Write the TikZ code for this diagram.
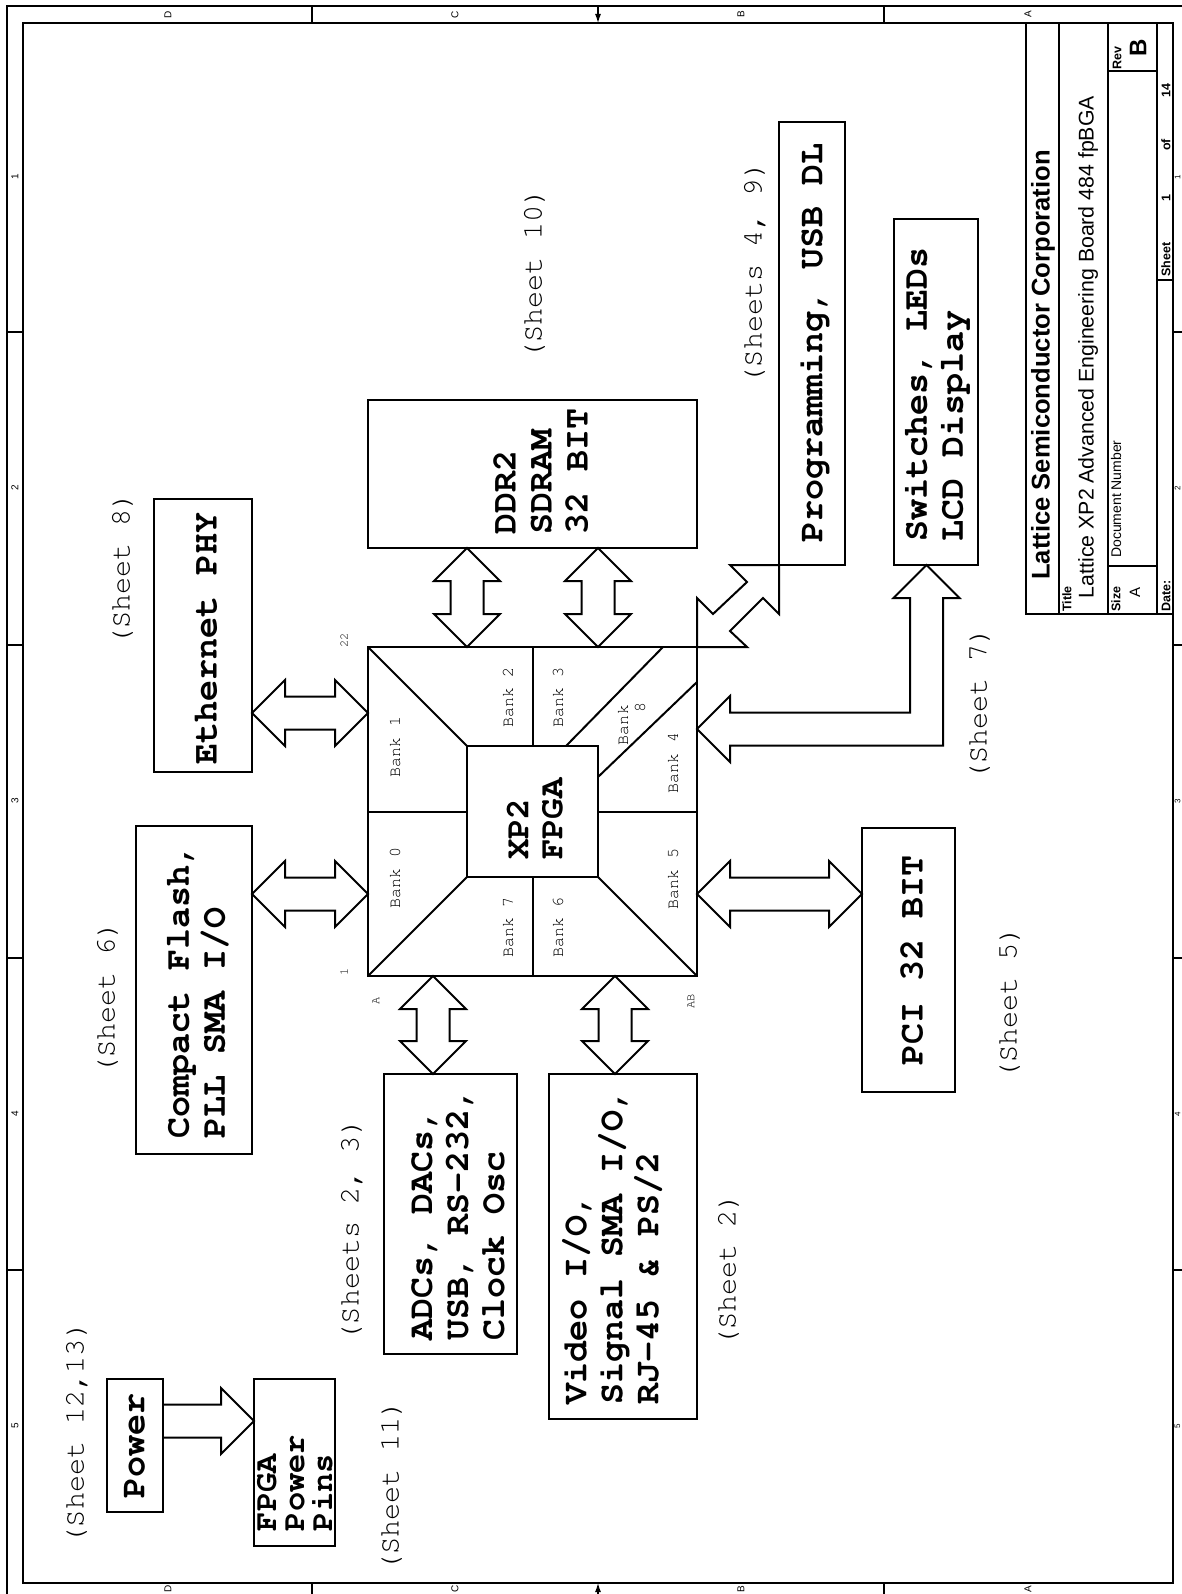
\documentclass[tikz,border=0pt]{standalone}
\usepackage[T1]{fontenc}
\usepackage{fontspec}
\newfontfamily\arialf{Liberation Sans}
\newcommand\courf{\fontencoding{T1}\fontfamily{pcr}\fontseries{m}\fontshape{n}\selectfont}
\newcommand\courbf{\fontencoding{T1}\fontfamily{pcr}\fontseries{b}\fontshape{n}\selectfont}
\usetikzlibrary{calc,arrows.meta}
\tikzset{
  ln/.style={line width=2pt},
  blk/.style={draw, line width=2pt, inner sep=0pt, outer sep=0pt, anchor=north west},
  btxt/.style={rotate=90, align=left, inner sep=0pt, font=\courbf\fontsize{35}{36}\selectfont},
  stxt/.style={rotate=90, inner sep=0pt, font=\courf\fontsize{28.5}{30}\selectfont},
  banktxt/.style={rotate=90, inner sep=0pt, font=\courf\fontsize{16.7}{18}\selectfont},
  pintxt/.style={rotate=90, inner sep=0pt, font=\courf\fontsize{12}{14}\selectfont},
  bandtxt/.style={rotate=90, inner sep=0pt, font=\arialf\fontsize{10}{12}\selectfont},
  arr/.style={draw, line width=2pt, line join=miter},
  tb/.style={line width=2pt},
  tbs/.style={rotate=90, inner sep=0pt, anchor=west, font=\arialf\bfseries\fontsize{12.5}{14}\selectfont},
}
\newcommand\hdbl[2]{\draw[arr] (#1) -- ($(#1)+(33,-33)$) -- ($(#1)+(33,-16.5)$) -- ($(#2)+(-33,-16.5)$) -- ($(#2)+(-33,-33)$) -- (#2) -- ($(#2)+(-33,33)$) -- ($(#2)+(-33,16.5)$) -- ($(#1)+(33,16.5)$) -- ($(#1)+(33,33)$) -- cycle;}
\newcommand\vdbl[2]{\draw[arr] (#1) -- ($(#1)+(-33,33)$) -- ($(#1)+(-16.5,33)$) -- ($(#2)+(-16.5,-33)$) -- ($(#2)+(-33,-33)$) -- (#2) -- ($(#2)+(33,-33)$) -- ($(#2)+(16.5,-33)$) -- ($(#1)+(16.5,33)$) -- ($(#1)+(33,33)$) -- cycle;}
\begin{document}
\begin{tikzpicture}[x=1pt,y=-1pt]
\useasboundingbox (0,0) rectangle (1181,1594);
% ---------- sheet frame ----------
\draw[ln] (7,1600) -- (7,6) -- (1195,6);
\draw[ln] (23,23) rectangle (1173,1583);
\foreach \x in {312,884} {\draw[line width=1.2pt] (\x,6) -- (\x,23); \draw[line width=1.2pt] (\x,1583) -- (\x,1600);}
\foreach \y in {332,645,958,1270} {\draw[line width=1.2pt] (7,\y) -- (23,\y); \draw[line width=1.2pt] (1173,\y) -- (1195,\y);}
\draw[line width=1.2pt,-{Latex[length=9pt,width=6pt]}] (598,6) -- (598,23);
\draw[line width=1.2pt,-{Latex[length=9pt,width=6pt]}] (598,1600) -- (598,1583);
\foreach \x/\l in {168/D,455/C,741/B,1028/A} {\node[bandtxt] at (\x,14.5) {\l}; \node[bandtxt] at (\x,1589) {\l};}
\foreach \y/\n in {177/1,488/2,801/3,1114/4,1426/5} {\node[bandtxt] at (15,\y) {\n}; \node[bandtxt, font=\arialf\fontsize{8}{9}\selectfont] at (1177.5,\y) {\n};}
% ---------- title block ----------
\draw[tb] (1026,23) rectangle (1173,614);
\draw[tb] (1059,23) -- (1059,614);
\draw[tb] (1108,23) -- (1108,614);
\draw[tb] (1157,23) -- (1157,614);
\draw[tb] (1108,566) -- (1157,566);
\draw[tb] (1108,71) -- (1157,71);
\draw[tb] (1157,280) -- (1173,280);
\node[rotate=90, inner sep=0pt, font=\arialf\bfseries\fontsize{25.6}{28}\selectfont] (corp) at (1043,365) {Lattice Semiconductor Corporation};
\node[rotate=90, inner sep=0pt, font=\arialf\fontsize{21.3}{24}\selectfont] (ttl) at (1088,347) {Lattice XP2 Advanced Engineering Board 484 fpBGA};
\node[tbs] (tlab) at (1067,612) {Title};
\node[tbs] (slab) at (1116,612) {Size};
\node[rotate=90, inner sep=0pt, font=\arialf\fontsize{15}{16}\selectfont] (sval) at (1135,592) {A};
\node[tbs, font=\arialf\fontsize{14}{16}\selectfont] (dlab) at (1116,558) {Document Number};
\node[tbs] (rlab) at (1117,70) {Rev};
\node[rotate=90, inner sep=0pt, font=\arialf\bfseries\fontsize{24}{26}\selectfont] (rval) at (1138,48) {B};
\node[tbs] (datel) at (1166,612) {Date:};
\node[tbs] (shl) at (1166,277) {Sheet};
\node[tbs, anchor=center] (shn) at (1166,198) {1};
\node[tbs, anchor=center] (ofl) at (1166,145) {of};
\node[tbs, anchor=center] (tot) at (1166,91) {14};
% ---------- blocks ----------
\node[blk, minimum width=329pt, minimum height=148pt] (ddr) at (368,400) {};
\node[blk, minimum width=66pt, minimum height=443pt] (prog) at (779,122) {};
\node[blk, minimum width=84pt, minimum height=346pt] (sw) at (894,219) {};
\node[blk, minimum width=98pt, minimum height=273pt] (eth) at (154,499) {};
\node[blk, minimum width=116pt, minimum height=328pt] (cf) at (136,826) {};
\node[blk, minimum width=133pt, minimum height=280pt] (adc) at (384,1074) {};
\node[blk, minimum width=148pt, minimum height=345pt] (vid) at (549,1074) {};
\node[blk, minimum width=93pt, minimum height=264pt] (pci) at (862,828) {};
\node[blk, minimum width=56pt, minimum height=133pt] (pwr) at (107,1379) {};
\node[blk, minimum width=81pt, minimum height=167pt] (pins) at (254,1379) {};
\node[blk, minimum width=329pt, minimum height=329pt] (fpga) at (368,647) {};
\node[blk, minimum width=131pt, minimum height=131pt] (xp) at (467,746) {};
% block texts
\node[btxt] (ddrt) at (541,471) {DDR2\\SDRAM\\32 BIT};
\node[btxt] (progt) at (813,343) {Programming, USB DL};
\node[btxt] (swt) at (935.5,394) {Switches, LEDs\\LCD Display};
\node[btxt] (etht) at (206,638) {Ethernet PHY};
\node[btxt] (cft) at (197,991) {Compact Flash,\\PLL SMA I/O};
\node[btxt] (adct) at (458,1214) {ADCs, DACs,\\USB, RS-232,\\Clock Osc};
\node[btxt] (vidt) at (612,1247) {Video I/O,\\Signal SMA I/O,\\RJ-45 \& PS/2};
\node[btxt] (pcit) at (912,960) {PCI 32 BIT};
\node[btxt] (pwrt) at (135,1446) {Power};
\node[btxt, font=\courbf\fontsize{32}{28}\selectfont] (pinst) at (295,1483) {FPGA\\Power\\Pins};
\node[btxt, font=\courbf\fontsize{34}{34}\selectfont] (xpt) at (535,819) {XP2\\FPGA};
% sheet labels
\node[stxt] (s10) at (534,274) {(Sheet 10)};
\node[stxt] (s49) at (754,273) {(Sheets 4, 9)};
\node[stxt] (s8) at (122,569) {(Sheet 8)};
\node[stxt] (s7) at (979,704) {(Sheet 7)};
\node[stxt] (s6) at (107,998) {(Sheet 6)};
\node[stxt] (s5) at (1009,1003) {(Sheet 5)};
\node[stxt] (s23) at (351,1230) {(Sheets 2, 3)};
\node[stxt] (s2) at (728,1270) {(Sheet 2)};
\node[stxt] (s1213) at (76,1433) {(Sheet 12,13)};
\node[stxt] (s11) at (391,1486) {(Sheet 11)};
% ---------- FPGA interior ----------
\draw[ln] (fpga.north west) -- (xp.north west);
\draw[ln] (fpga.south west) -- (xp.south west);
\draw[ln] (fpga.south east) -- (xp.south east);
\draw[ln] (fpga.north) -- (xp.north);
\draw[ln] (fpga.south) -- (xp.south);
\draw[ln] (fpga.west) -- (xp.west);
\draw[ln] (fpga.east) -- (xp.east);
\draw[ln] ($(fpga.north east)+(-34,0)$) -- ($(xp.north east)+(-32,0)$);
\draw[ln] ($(fpga.north east)+(0,35)$) -- ($(xp.north east)+(0,31)$);
\node[banktxt] (b1) at (395,747) {Bank 1};
\node[banktxt] (b0) at (395,878) {Bank 0};
\node[banktxt] (b2) at (508,697.5) {Bank 2};
\node[banktxt] (b3) at (558,697.5) {Bank 3};
\node[banktxt] (b8a) at (623,725) {Bank};
\node[banktxt] (b8b) at (640,707) {8};
\node[banktxt] (b4) at (673,763) {Bank 4};
\node[banktxt] (b5) at (673,879) {Bank 5};
\node[banktxt] (b7) at (508,927.5) {Bank 7};
\node[banktxt] (b6) at (558,927.5) {Bank 6};
\node[pintxt] (p22) at (344,640) {22};
\node[pintxt] (p1) at (344,972) {1};
\node[pintxt] (pA) at (376,1001) {A};
\node[pintxt] (pAB) at (691,1001) {AB};
% ---------- connectors ----------
\coordinate (ey) at (0,713);
\coordinate (cy) at (0,894);
\coordinate (ax) at (433,0);
\coordinate (vx) at (615,0);
\coordinate (py) at (0,1421);
\coordinate (e1) at (eth.east |- ey); \coordinate (e2) at (fpga.west |- ey);
\coordinate (c1) at (cf.east |- cy);  \coordinate (c2) at (fpga.west |- cy);
\coordinate (q1) at (fpga.east |- cy); \coordinate (q2) at (pci.west |- cy);
\coordinate (d1) at (ddr.south -| xp.west); \coordinate (d2) at (fpga.north -| xp.west);
\coordinate (d3) at (ddr.south -| xp.east); \coordinate (d4) at (fpga.north -| xp.east);
\coordinate (a1) at (fpga.south -| ax); \coordinate (a2) at (adc.north -| ax);
\coordinate (v1) at (fpga.south -| vx); \coordinate (v2) at (vid.north -| vx);
\hdbl{e1}{e2}
\hdbl{c1}{c2}
\hdbl{q1}{q2}
\vdbl{d1}{d2}
\vdbl{d3}{d4}
\vdbl{a1}{a2}
\vdbl{v1}{v2}
% power -> pins
\coordinate (w1) at (pwr.east |- py); \coordinate (w2) at (pins.west |- py);
\draw[arr] ($(w1)+(0,-16.5)$) -- ($(w2)+(-33,-16.5)$) -- ($(w2)+(-33,-33)$) -- (w2) -- ($(w2)+(-33,33)$) -- ($(w2)+(-33,16.5)$) -- ($(w1)+(0,16.5)$);
% programming (diagonal)
\coordinate (F) at (fpga.north east);
\coordinate (P) at (prog.south west);
\draw[arr] (F) -- ($(F)+(50,0)$) -- ($(F)+(33,-16)$) -- ($(P)+(-16,33)$) -- ($(P)+(0,49)$) -- (P) -- ($(P)+(-49,0)$) -- ($(P)+(-32,17)$) -- ($(F)+(16,-33)$) -- ($(F)+(0,-49)$) -- cycle;
% switches (L-shaped)
\coordinate (St) at ($(fpga.north east)+(0,82)$);
\coordinate (Su) at ($(sw.south west)+(32.5,0)$);
\coordinate (Sc) at (Su |- St);
\draw[arr] (St) -- ($(St)+(33,-33)$) -- ($(St)+(33,-16.5)$) -- ($(Sc)+(-16.5,-16.5)$) -- ($(Su)+(-16.5,33)$) -- ($(Su)+(-33,33)$) -- (Su) -- ($(Su)+(33,33)$) -- ($(Su)+(16.5,33)$) -- ($(Sc)+(16.5,16.5)$) -- ($(St)+(33,16.5)$) -- ($(St)+(33,33)$) -- cycle;
\end{tikzpicture}
\end{document}
